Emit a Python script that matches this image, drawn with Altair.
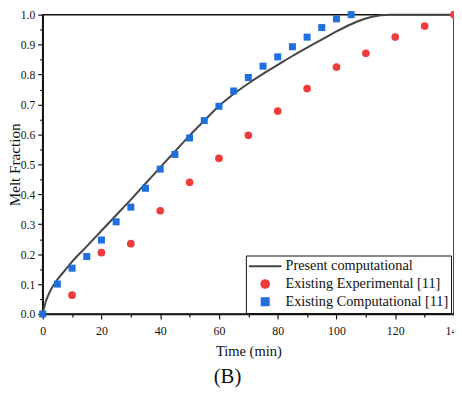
import altair as alt
import pandas as pd

# Present computational (line)
line_t = [0, 1, 2, 3, 5, 7.5, 10, 15, 20, 25, 30, 35, 40, 45, 50, 55, 60, 65, 70,
          75, 80, 85, 90, 95, 100, 105, 110, 115, 118, 140]
line_f = [0, 0.04, 0.065, 0.085, 0.115, 0.145, 0.175, 0.226, 0.278, 0.33, 0.382,
          0.436, 0.49, 0.543, 0.596, 0.646, 0.695, 0.735, 0.77, 0.802, 0.832, 0.862,
          0.89, 0.917, 0.944, 0.968, 0.987, 0.998, 1.0, 1.0]

# Existing Experimental [11]
exp_t = [10, 20, 30, 40, 50, 60, 70, 80, 90, 100, 110, 120, 130, 140]
exp_f = [0.063, 0.205, 0.235, 0.345, 0.44, 0.52, 0.597, 0.678, 0.753, 0.825,
         0.871, 0.925, 0.962, 1.0]

# Existing Computational [11]
comp_t = [0, 5, 10, 15, 20, 25, 30, 35, 40, 45, 50, 55, 60, 65, 70, 75, 80, 85,
          90, 95, 100, 105]
comp_f = [0, 0.1, 0.153, 0.192, 0.247, 0.308, 0.357, 0.42, 0.484, 0.533, 0.588,
          0.646, 0.694, 0.745, 0.79, 0.828, 0.859, 0.893, 0.925, 0.957, 0.986, 1.0]

series = ["Present computational", "Existing Experimental [11]", "Existing Computational [11]"]
colors = ["#454545", "#ee3b3b", "#1f6fdc"]
shapes = ["stroke", "circle", "square"]
sizes = [1089, 60, 50]

line_df = pd.DataFrame({"t": line_t, "f": line_f, "s": series[0]})
pts_df = pd.concat([
    pd.DataFrame({"t": exp_t, "f": exp_f, "s": series[1]}),
    pd.DataFrame({"t": comp_t, "f": comp_f, "s": series[2]}),
])

FONT = "Liberation Serif"

x_ticks = list(range(0, 141, 10))
y_ticks = [round(i * 0.05, 2) for i in range(21)]

x_axis = alt.Axis(values=x_ticks, title="Time (min)", grid=False,
                  labelExpr="datum.value % 20 == 0 ? datum.label : ''",
                  tickSize={"condition": {"test": "datum.value % 20 == 0", "value": 5}, "value": 3},
                  labelOverlap=False, labelFlush=False, labelPadding=7,
                  titlePadding=7, titleFontSize=14.6, format="d")
y_axis = alt.Axis(values=y_ticks, title="Melt Fraction", grid=False,
                  labelExpr="round(datum.value*100) % 10 == 0 ? format(datum.value, '.1f') : ''",
                  tickSize={"condition": {"test": "round(datum.value*100) % 10 == 0", "value": 5}, "value": 3},
                  labelOverlap=False, labelFlush=False, labelPadding=3,
                  labelFontSize=11.7, titlePadding=-2, titleFontSize=15.3)

xs = alt.Scale(domain=[0, 140], nice=False)
ys = alt.Scale(domain=[0, 1], nice=False)

color = alt.Color("s:N", scale=alt.Scale(domain=series, range=colors),
                  legend=alt.Legend(title=None, orient="none", legendX=205, legendY=243,
                                    strokeColor="#111", fillColor="white", padding=2,
                                    labelFont=FONT, labelFontSize=14.4, labelColor="#111",
                                    labelOffset=3, rowPadding=0, clipHeight=17.5,
                                    symbolStrokeWidth=2, labelLimit=400))
shape = alt.Shape("s:N", scale=alt.Scale(domain=series, range=shapes), legend=alt.Legend(title=None))
size = alt.Size("s:N", scale=alt.Scale(type="ordinal", domain=series, range=sizes),
                legend=alt.Legend(title=None))

line = alt.Chart(line_df).mark_line(strokeWidth=2, clip=False, interpolate="monotone").encode(
    x=alt.X("t:Q", scale=xs, axis=x_axis),
    y=alt.Y("f:Q", scale=ys, axis=y_axis),
    color=color, order="t:Q")
pts = alt.Chart(pts_df).mark_point(filled=True, opacity=1, clip=False).encode(
    x=alt.X("t:Q", scale=xs, axis=x_axis),
    y=alt.Y("f:Q", scale=ys, axis=y_axis),
    color=color, shape=shape, size=size)

chart = alt.layer(line, pts).properties(
    width=415, height=302,
    background="white",
    autosize=alt.AutoSizeParams(type="none"),
    padding={"left": 35, "top": 5, "right": 0, "bottom": 80},
    title=alt.TitleParams("(B)", orient="bottom", anchor="middle", dx=-21,
                          font=FONT, fontSize=21, fontWeight="normal",
                          color="#111", offset=8),
).configure_view(stroke="#111", strokeWidth=1.5).configure_axis(
    domainColor="#111", domainWidth=1.5, tickColor="#111", tickWidth=1.2,
    labelFont=FONT, labelFontSize=12, labelColor="#111",
    titleFont=FONT, titleFontSize=14, titleFontWeight="normal", titleColor="#111",
)

chart.save("out.html", embed_options={"renderer": "svg", "actions": False})
